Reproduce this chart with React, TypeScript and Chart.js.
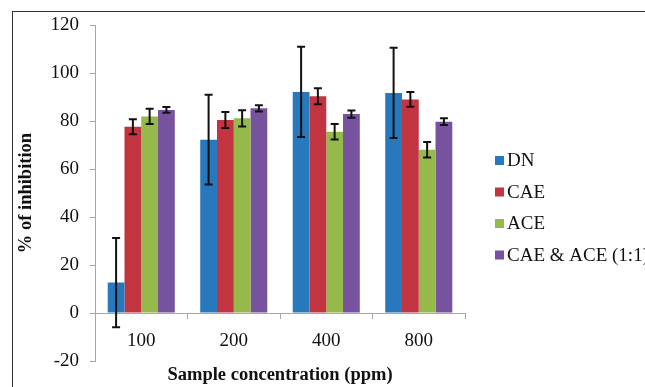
import React, { useEffect, useRef } from "react";
import { Chart, registerables } from "chart.js";

Chart.register(...registerables);

const categories = ["100", "200", "400", "800"];
const seriesNames = ["DN", "CAE", "ACE", "CAE & ACE (1:1)"];
const dnValues = [12.7, 72.2, 92.1, 91.7];
const dnErrors = [18.6, 18.7, 18.8, 18.8];
const caeValues = [77.6, 80.4, 90.3, 89.0];
const caeErrors = [3.1, 3.3, 3.3, 3.1];
const aceValues = [81.9, 81.1, 75.5, 68.0];
const aceErrors = [3.2, 3.4, 3.2, 3.2];
const mixValues = [84.6, 85.3, 82.9, 79.7];
const mixErrors = [1.2, 1.3, 1.5, 1.4];
const colors = ["#2878BD", "#C13440", "#96B94B", "#77529E"];
const yMin = -20;
const yMax = 120;
const yStep = 20;

const FONT = '"Liberation Serif", "Times New Roman", serif';

const errorBarPlugin = {
  id: "errorBars",
  afterDatasetsDraw(chart: any) {
    const ctx = chart.ctx;
    const yScale = chart.scales.y;
    ctx.save();
    ctx.strokeStyle = "#111";
    ctx.lineWidth = 2;
    chart.data.datasets.forEach((ds: any, di: number) => {
      const meta = chart.getDatasetMeta(di);
      meta.data.forEach((bar: any, i: number) => {
        const v = ds.data[i];
        const e = ds.errors[i];
        const x = bar.x;
        const yTop = yScale.getPixelForValue(v + e);
        const yBot = yScale.getPixelForValue(v - e);
        const cap = 4;
        ctx.beginPath();
        ctx.moveTo(x, yTop);
        ctx.lineTo(x, yBot);
        ctx.moveTo(x - cap, yTop);
        ctx.lineTo(x + cap, yTop);
        ctx.moveTo(x - cap, yBot);
        ctx.lineTo(x + cap, yBot);
        ctx.stroke();
      });
    });
    ctx.restore();
  },
};

const legendPlugin = {
  id: "sideLegend",
  afterDraw(chart: any) {
    const ctx = chart.ctx;
    const area = chart.chartArea;
    const x0 = area.right + 30;
    const y0 = 160.5;
    const gap = 31.5;
    ctx.save();
    ctx.font = `19px ${FONT}`;
    ctx.textBaseline = "middle";
    ctx.textAlign = "left";
    chart.data.datasets.forEach((ds: any, i: number) => {
      const cy = y0 + i * gap;
      ctx.fillStyle = ds.backgroundColor;
      ctx.fillRect(x0, cy - 4.5, 9, 9);
      ctx.fillStyle = "#111";
      ctx.fillText(ds.label, x0 + 12, cy + 1);
    });
    ctx.restore();
  },
};

export default function App() {
  const canvasRef = useRef<HTMLCanvasElement | null>(null);

  useEffect(() => {
    if (!canvasRef.current) return;
    const allValues = [dnValues, caeValues, aceValues, mixValues];
    const allErrors = [dnErrors, caeErrors, aceErrors, mixErrors];
    const chart = new Chart(canvasRef.current, {
      type: "bar",
      data: {
        labels: categories,
        datasets: seriesNames.map((name, i) => ({
          label: name,
          data: allValues[i],
          errors: allErrors[i],
          backgroundColor: colors[i],
          borderWidth: 0,
          categoryPercentage: 0.725,
          barPercentage: 1,
        })) as any,
      },
      options: {
        animation: false,
        responsive: false,
        maintainAspectRatio: false,
        layout: { padding: { top: 25, left: 0, right: 180, bottom: 0.3 } },
        plugins: {
          legend: { display: false },
          tooltip: { enabled: false },
          title: {
            display: true,
            text: "Sample concentration (ppm)",
            position: "bottom",
            fullSize: false,
            color: "#111",
            font: { family: FONT, size: 18.5, weight: "bold" },
            padding: { top: 3.5, bottom: 0 },
          },
        },
        scales: {
          x: {
            position: { y: 0 } as any,
            grid: {
              drawOnChartArea: false,
              drawTicks: true,
              tickLength: 5,
              color: "#a6a6a6",
              offset: true,
            },
            border: { display: true, color: "#a6a6a6", width: 1 },
            ticks: {
              color: "#111",
              font: { family: FONT, size: 19 },
              padding: 11.5,
            },
          },
          y: {
            min: yMin,
            max: yMax,
            afterFit: (s: any) => {
              s.width = 95;
            },
            grid: {
              drawOnChartArea: false,
              drawTicks: true,
              tickLength: 5,
              color: "#a6a6a6",
            },
            border: { display: true, color: "#a6a6a6", width: 1 },
            ticks: {
              stepSize: yStep,
              color: "#111",
              font: { family: FONT, size: 19 },
              padding: 11,
            },
            title: {
              display: true,
              text: "% of inhibition",
              color: "#111",
              font: { family: FONT, size: 18.5, weight: "bold" },
              padding: { top: 15, bottom: 0 },
            },
          },
        },
      },
      plugins: [errorBarPlugin, legendPlugin],
    });
    return () => chart.destroy();
  }, []);

  return (
    <div style={{ position: "fixed", left: 0, top: 0, width: 645, height: 387, background: "#fff", overflow: "hidden" }}>
      <div
        style={{
          position: "absolute",
          left: 12,
          top: 11,
          width: 700,
          height: 450,
          border: "1px solid #333",
        }}
      />
      <canvas ref={canvasRef} width={645} height={387} style={{ position: "absolute", left: 0, top: 0 }} />
    </div>
  );
}
